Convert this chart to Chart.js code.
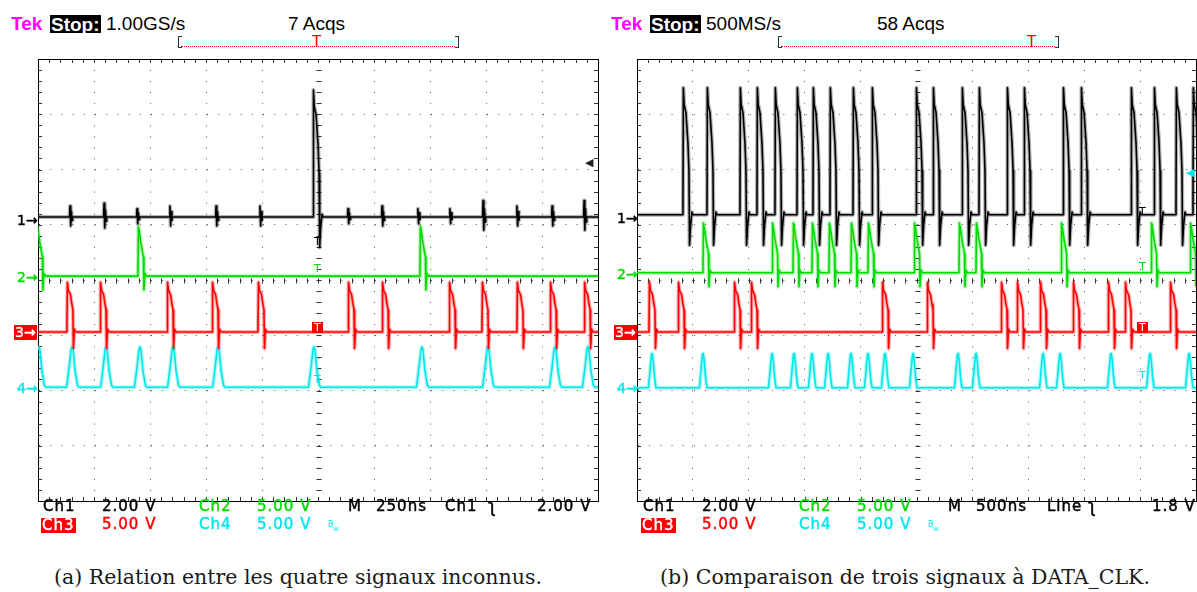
<!DOCTYPE html>
<html><head><meta charset="utf-8">
<script src="https://cdn.jsdelivr.net/npm/chart.js@4.4.1/dist/chart.umd.min.js"></script>
<style>
html,body{margin:0;padding:0;background:#fff;width:1197px;height:592px;overflow:hidden;position:relative;}
.t{position:absolute;white-space:nowrap;}
.hdr{font-family:"Liberation Sans",Arial,sans-serif;font-size:19px;line-height:19px;}
.bot{font-family:"DejaVu Sans",sans-serif;font-size:15px;line-height:15px;letter-spacing:1px;-webkit-text-stroke:0.45px currentColor;}
.mk{font-family:"DejaVu Sans",sans-serif;font-size:14px;line-height:14px;-webkit-text-stroke:0.4px currentColor;}
.cap{font-family:"DejaVu Serif",serif;font-size:20.5px;line-height:20px;color:#1a1a1a;text-align:center;width:600px;}
.box{position:absolute;}
</style>
</head><body>
<div class="box" style="left:36px;top:57px;width:564px;height:446px;"><canvas id="ca" width="564" height="446"></canvas></div>
<div class="box" style="left:635px;top:57px;width:563px;height:446px;"><canvas id="cb" width="563" height="446"></canvas></div>
<script>
// ---------- DATA ----------
const timebaseA = 250;   // ns/div  (M 250ns)
const timebaseB = 500;   // ns/div  (M 500ns)
// channel ground positions (divisions from bottom of screen)
const offsetsA = [5.14, 4.07, 3.06, 2.06];
const offsetsB = [5.18, 4.13, 3.06, 2.05];

// Panel (a): event times in ns from left edge of the screen
const a_ch1_pulses   = [1228];
const a_ch1_glitches = [143, 295, 442, 589, 795, 991, 1384, 1536, 1696, 1839, 1987, 2138, 2295, 2438];
const a_ch1_glitchAmp= [0.2, 0.25, 0.15, 0.2, 0.2, 0.2, 0.15, 0.2, 0.15, 0.15, 0.3, 0.2, 0.2, 0.3];
const a_ch2_pulses   = [-5, 446, 1705];
const a_ch3_pulses   = [129, 277, 576, 777, 982, 1384, 1536, 1835, 1982, 2138, 2286, 2438];
const a_ch4_peaks    = [4, 152, 304, 455, 603, 804, 1232, 1714, 2009, 2308, 2455];

// Panel (b)
const b_ch1_pulses = [411, 626, 921, 1073, 1234, 1431, 1574, 1726, 1932, 2102, 2496, 2648, 2907, 3059, 3310, 3462, 3811, 3972, 4419, 4625, 4821, 4973];
const b_ch2_pulses = [590, 1208, 1395, 1565, 1717, 1914, 2066, 2478, 2880, 3032, 3793, 4598, 4947];
const b_ch3_pulses = [107, 367, 868, 1020, 2192, 2594, 3256, 3399, 3605, 3900, 4213, 4365, 4768];
const b_ch4_peaks  = [134, 590, 1208, 1404, 1565, 1709, 1914, 2066, 2218, 2469, 2871, 3032, 3632, 3784, 4240, 4589, 4938];

// ---------- STYLE ----------
const COL = {ch1:'#000000', ch2:'#00dd00', ch3:'#ff0000', ch4:'#00e8e8'};
const BAND = [4, 4, 4, 4];
const PX_PER_DIV = 56;
// pulse shapes: [dx (screen px), dy (divisions)]
const SH_CH1 = [[0,0],[0.4,2.3],[1.2,2.0],[3,1.85],[5,1.3],[6,0.8],[6.6,-0.55],[7.6,-0.2],[9,0.05],[10,0]];
const SH_CH2 = [[0,0],[0.5,0.9],[1.5,0.8],[3,0.6],[4.5,0.45],[5.5,0.35],[6,-0.25],[7,0.05],[8.5,0]];
const SH_CH3 = [[0,0],[0.5,0.9],[1.5,0.75],[3.5,0.68],[5,0.5],[6,0.4],[6.5,-0.3],[7.5,0.05],[9,0]];
const SH_CH4A= [[-5.5,0],[-3,0.35],[-1,0.68],[0,0.73],[1,0.68],[3,0.3],[5.5,0.03],[7,0]];
const SH_CH4B= [[-3.5,0],[-1.8,0.35],[-0.5,0.6],[0.3,0.62],[1.2,0.5],[2.5,0.2],[4,0]];
const SH_GL  = [[-0.5,0],[0,1],[0.7,-0.8],[1.4,0.5],[2,-0.3],[2.6,0]];

function buildTrace(events, base, nsPerDiv) {
  const k = nsPerDiv / PX_PER_DIV;
  const ev = events.slice().sort((a,b)=>a.t-b.t);
  const pts = [{x:-nsPerDiv, y:base}];
  ev.forEach(e => e.shape.forEach(([dx,dy]) => pts.push({x:e.t+dx*k, y:base+dy*(e.amp||1)})));
  pts.push({x:11*nsPerDiv, y:base});
  return pts;
}
const ev = (times, shape, amps) => times.map((t,i)=>({t, shape, amp: amps ? amps[i] : 1}));

const tracesA = [
  {c:COL.ch1, d:buildTrace(ev(a_ch1_pulses,SH_CH1).concat(ev(a_ch1_glitches,SH_GL,a_ch1_glitchAmp)), offsetsA[0], timebaseA)},
  {c:COL.ch2, d:buildTrace(ev(a_ch2_pulses,SH_CH2), offsetsA[1], timebaseA)},
  {c:COL.ch3, d:buildTrace(ev(a_ch3_pulses,SH_CH3), offsetsA[2], timebaseA)},
  {c:COL.ch4, d:buildTrace(ev(a_ch4_peaks,SH_CH4A), offsetsA[3], timebaseA)},
];
const tracesB = [
  {c:COL.ch1, d:buildTrace(ev(b_ch1_pulses,SH_CH1), offsetsB[0], timebaseB)},
  {c:COL.ch2, d:buildTrace(ev(b_ch2_pulses,SH_CH2), offsetsB[1], timebaseB)},
  {c:COL.ch3, d:buildTrace(ev(b_ch3_pulses,SH_CH3), offsetsB[2], timebaseB)},
  {c:COL.ch4, d:buildTrace(ev(b_ch4_peaks,SH_CH4B), offsetsB[3], timebaseB)},
];

function hexA(h,a){const n=parseInt(h.slice(1),16);return `rgba(${n>>16&255},${n>>8&255},${n&255},${a})`;}

const scopeTicks = {
  id:'scopeTicks',
  beforeDatasetsDraw(chart){
    const {ctx, chartArea:a, scales:{x,y}} = chart;
    ctx.save(); ctx.strokeStyle='#333'; ctx.lineWidth=1; ctx.beginPath();
    const cy = Math.round(y.getPixelForValue((y.min+y.max)/2))+0.5;
    const cx = Math.round(x.getPixelForValue((x.min+x.max)/2))+0.5;
    const sx=(x.max-x.min)/50, sy=(y.max-y.min)/40;
    for(let i=1;i<50;i++){
      const px=Math.round(x.getPixelForValue(x.min+i*sx))+0.5;
      ctx.moveTo(px,a.top); ctx.lineTo(px,a.top+4);
      ctx.moveTo(px,a.bottom); ctx.lineTo(px,a.bottom-4);
      ctx.moveTo(px,cy-2); ctx.lineTo(px,cy+3);
    }
    for(let i=1;i<40;i++){
      const py=Math.round(y.getPixelForValue(y.min+i*sy))+0.5;
      ctx.moveTo(a.left,py); ctx.lineTo(a.left+4,py);
      ctx.moveTo(a.right,py); ctx.lineTo(a.right-4,py);
      ctx.moveTo(cx-2,py); ctx.lineTo(cx+3,py);
    }
    ctx.stroke(); ctx.restore();
  }
};

function makeChart(id, traces, nsPerDiv, pxDivX){
  const ds = [];
  traces.forEach(t=>ds.push({data:t.d, borderColor:t.c, borderWidth:1.6, pointRadius:0, tension:0, borderJoinStyle:'round'}));
  traces.forEach((t,i)=>ds.push({data:t.d, borderColor:hexA(t.c,0.3), borderWidth:BAND[i], pointRadius:0, tension:0, borderJoinStyle:'round'}));
  const hidden = {type:'linear', ticks:{display:false}, grid:{display:false, drawTicks:false}, border:{display:true, color:'#000', width:1}};
  new Chart(document.getElementById(id), {
    type:'line',
    data:{datasets:ds},
    options:{
      responsive:false, animation:false, events:[],
      layout:{padding:2},
      plugins:{legend:{display:false}, tooltip:{enabled:false}},
      scales:{
        x:{type:'linear', min:0, max:10*nsPerDiv, ticks:{display:false, stepSize:nsPerDiv},
           grid:{color:'#555', lineWidth:1, drawTicks:false}, border:{display:true, color:'#000', width:1, dash:[1,10.05]}},
        y:{type:'linear', min:0, max:8, ticks:{display:false, stepSize:1},
           grid:{color:'#555', lineWidth:1, drawTicks:false}, border:{display:true, color:'#000', width:1, dash:[1,pxDivX/5-1]}},
        x2:Object.assign({position:'top', min:0, max:10*nsPerDiv}, hidden),
        y2:Object.assign({position:'right', min:0, max:8}, hidden),
      }
    },
    plugins:[scopeTicks]
  });
}
makeChart('ca', tracesA, timebaseA, 56);
makeChart('cb', tracesB, timebaseB, 55.9);

// ---------- TEXT ----------
function T(x,y,txt,cls,css){const d=document.createElement('div');d.className='t '+(cls||'');d.textContent=txt;d.style.left=x+'px';d.style.top=y+'px';if(css)d.style.cssText+=css;document.body.appendChild(d);return d;}
function panelText(ox, o){
  T(ox+11,14,'Tek','hdr','color:#ff00ff;font-weight:bold;');
  T(ox+50,14.5,'Stop:','hdr','background:#000;color:#fff;font-weight:bold;height:18.5px;padding:0 1px;');
  T(ox+106,14,o.rate,'hdr','color:#000;');
  T(o.acqX,14,o.acqs,'hdr','color:#000;');
  // record bar
  T(ox+178,36,'','', 'width:3px;height:10px;border:1px solid #234;border-right:none;');
  T(ox+455,36,'','', 'width:3px;height:10px;border:1px solid #234;border-left:none;');
  T(ox+181,46,'','', 'width:274px;height:0;border-top:1px dotted #ff0000;');
  T(o.trigBarX,35,'T','', 'font-family:"DejaVu Sans";font-size:15px;line-height:15px;color:#ff0000;');
  // bottom rows
  const r1=499, r2=517, G=COL.ch2, C=COL.ch4;
  T(ox+43,r1,'Ch1','bot','color:#000');
  T(ox+102,r1,'2.00 V','bot','color:#000');
  T(ox+199,r1,'Ch2','bot','color:'+G);
  T(ox+257,r1,'5.00 V','bot','color:'+G);
  T(ox+348,r1,'M','bot','color:#000');
  T(ox+376,r1,o.tb,'bot','color:#000');
  T(o.srcX,r1,o.src,'bot','color:#000');
  T(o.slopeX,r1-1,'ʅ','bot','color:#000;font-size:17px;line-height:17px;');
  T(o.lvlX,r1,o.lvl,'bot','color:#000');
  T(ox+41,518,'Ch3','bot','background:#ff0000;color:#fff;padding:0 1px 0 1px;height:15px;');
  T(ox+102,r2,'5.00 V','bot','color:#ff0000');
  T(ox+199,r2,'Ch4','bot','color:'+C);
  T(ox+257,r2,'5.00 V','bot','color:'+C);
  T(ox+328,521,'B','', 'font-family:"DejaVu Sans";font-size:8px;line-height:8px;color:'+C);
  T(ox+333,526,'W','', 'font-family:"DejaVu Sans";font-size:6px;line-height:6px;color:'+C);
  // channel markers
  const mx = ox+17;
  T(mx,o.m[0]-12,'1→','mk','color:#000');
  T(mx,o.m[1]-12,'2→','mk','color:'+G);
  T(mx-3,o.m[2]-12,'3→','mk','background:#ff0000;color:#fff;height:15px;padding:0 1px;');
  T(mx,o.m[3]-12,'4→','mk','color:'+C);
  // trigger level arrow
  T(o.lvlArrow[0],o.lvlArrow[1],'◀','', 'font-family:"DejaVu Sans";font-size:11px;line-height:11px;color:'+o.lvlArrow[2]);
  // trigger position markers on traces
  const tx=o.tx;
  T(tx,o.tY[0],'T','', 'font-family:"DejaVu Sans";font-size:11px;line-height:11px;color:#000');
  T(tx,o.tY[1],'T','', 'font-family:"DejaVu Sans";font-size:11px;line-height:11px;color:'+G);
  T(tx-2,o.tY[2],'T','', 'font-family:"DejaVu Sans";font-size:11px;line-height:11px;color:#fff;background:#ff0000;padding:0 2px;');
  T(tx,o.tY[3],'T','', 'font-family:"DejaVu Sans";font-size:11px;line-height:11px;color:'+C);
  T(ox, 567, o.cap, 'cap', 'left:'+(o.capC-300)+'px');
}
panelText(0,{rate:'1.00GS/s', acqs:'7 Acqs', acqX:288, trigBarX:312, tb:'250ns', src:'Ch1', srcX:445, slopeX:488, lvl:'2.00 V', lvlX:537,
  m:[225,282,337,393], lvlArrow:[585,157,'#222'], tx:314, tY:[236,263,322,374], cap:'(a) Relation entre les quatre signaux inconnus.', capC:298});
panelText(600,{rate:'500MS/s', acqs:'58 Acqs', acqX:877, trigBarX:1027, tb:'500ns', src:'Line', srcX:1047, slopeX:1088, lvl:'1.8 V', lvlX:1152,
  m:[223,279,337,393], lvlArrow:[1186,167,'#00e8e8'], tx:1139, tY:[206,261,322,370], cap:'(b) Comparaison de trois signaux à DATA_CLK.', capC:905});
</script>
</body></html>
